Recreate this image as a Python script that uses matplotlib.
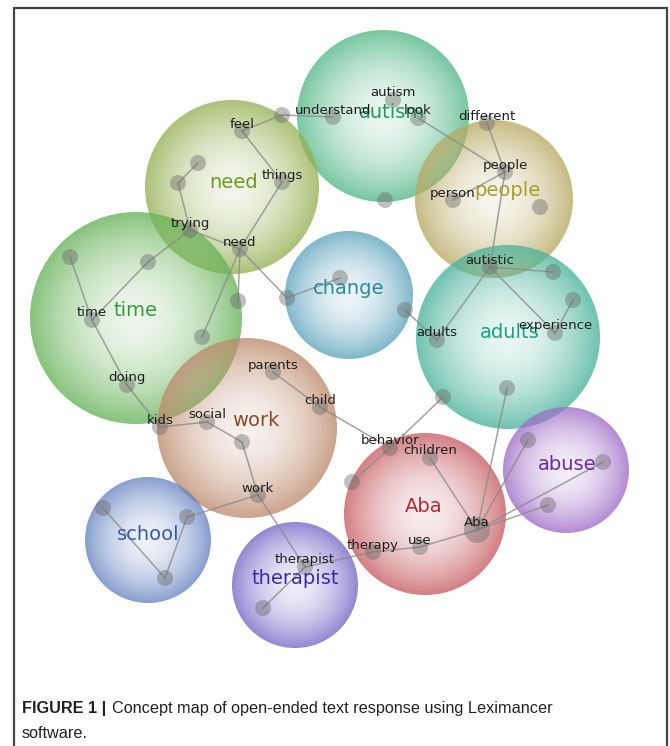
import matplotlib
matplotlib.use('Agg')
import matplotlib.pyplot as plt
from matplotlib.patches import Circle
import numpy as np

# concept circles (map coordinates = image pixels)
concepts = ['autism', 'need', 'people', 'time', 'change', 'adults',
            'work', 'school', 'therapist', 'Aba', 'abuse']
concept_x = [383, 232, 494, 136, 349, 508, 247, 148, 295, 425, 566]
concept_y = [116, 187, 199, 318, 295, 337, 428, 540, 585, 514, 470]
concept_r = [86, 87, 79, 106, 64, 92, 90, 63, 63, 81, 63]
label_x = [392, 234, 507, 136, 349, 510, 256, 148, 295, 424, 567]
label_y = [112, 182, 190, 311, 289, 332, 420, 534, 578, 506, 464]

# theme nodes
node_names = ['autism', 'understand', '', 'feel', 'look', 'different', 'people',
              'person', '', '', 'things', '', '', 'trying', 'need', '', '',
              'time', '', '', '', 'doing', 'kids', 'social', 'parents', 'child',
              'autistic', '', '', '', '', 'adults', 'experience', '', '',
              'behavior', 'children', '', 'work', '', '', '', 'therapist', '',
              '', 'Aba', 'therapy', 'use', '', '', '']
node_x = [393, 333, 282, 242, 418, 487, 505, 453, 540, 385, 282, 198, 178, 190,
          240, 70, 148, 92, 238, 287, 202, 127, 160, 207, 273, 320, 490, 553,
          573, 340, 405, 437, 555, 507, 443, 390, 430, 242, 258, 103, 187, 165,
          305, 263, 352, 477, 373, 420, 528, 603, 548]
node_y = [100, 117, 115, 131, 118, 123, 172, 200, 207, 200, 182, 163, 183, 230,
          249, 257, 262, 320, 301, 298, 337, 385, 427, 422, 372, 407, 267, 272,
          300, 278, 310, 340, 333, 388, 397, 448, 458, 442, 495, 508, 517, 578,
          567, 608, 482, 530, 552, 547, 440, 462, 505]
node_size = [8] * 45 + [13] + [8] * 5

edges = [(1, 2), (2, 3), (3, 10), (10, 14), (14, 13), (13, 12), (12, 11),
         (13, 16), (16, 17), (15, 17), (17, 21), (21, 22), (22, 23), (23, 37),
         (37, 38), (14, 18), (14, 20), (14, 19), (19, 29), (24, 25), (25, 35),
         (35, 34), (35, 44), (36, 45), (45, 47), (47, 46), (46, 42), (42, 43),
         (38, 42), (38, 40), (40, 41), (39, 41), (45, 33), (45, 48), (45, 49),
         (45, 50), (30, 31), (31, 26), (26, 32), (32, 28), (26, 27), (26, 6),
         (6, 5), (6, 4), (6, 7)]

fill_colors = [(85, 185, 135), (150, 178, 85), (185, 170, 100), (105, 180, 90),
               (95, 165, 190), (75, 180, 155), (190, 140, 110), (105, 135, 195),
               (120, 105, 200), (200, 95, 100), (160, 110, 200)]
text_colors = ['#1f9a5a', '#6f9a1f', '#a3a02a', '#3a9a3a', '#2a8aa0', '#1aa08a',
               '#8a4a2a', '#3a5aa0', '#3a2aa8', '#b02a3a', '#6a2aa8']

fig = plt.figure(figsize=(6.7, 7.46), dpi=100)
ax = fig.add_axes([0, 0, 1, 1])
ax.set_axis_off()

yy, xx = np.mgrid[-1:1:240j, -1:1:240j]
d = np.sqrt(xx ** 2 + yy ** 2)
for i in range(len(concepts)):
    cx, cy, r = concept_x[i], concept_y[i], concept_r[i]
    rgba = np.zeros((240, 240, 4))
    rgba[..., :3] = np.array(fill_colors[i]) / 255.0
    rgba[..., 3] = np.clip(0.12 + 0.68 * d ** 1.8, 0, 1)
    im = ax.imshow(rgba, extent=[cx - r, cx + r, cy + r, cy - r],
                   interpolation='bilinear', zorder=1, aspect='auto')
    clip = Circle((cx, cy), r, facecolor='none', edgecolor='none')
    ax.add_patch(clip)
    im.set_clip_path(clip)

for a, b in edges:
    ax.plot([node_x[a], node_x[b]], [node_y[a], node_y[b]],
            color='#8c8c8c', lw=1.1, alpha=0.8, zorder=2)

for i in range(len(node_x)):
    ax.add_patch(Circle((node_x[i], node_y[i]), node_size[i],
                        facecolor='#686868', edgecolor='none', alpha=0.42, zorder=3))

for i in range(len(concepts)):
    ax.text(label_x[i], label_y[i], concepts[i], color=text_colors[i],
            fontsize=14, ha='center', va='center', zorder=4,
            family='DejaVu Sans')

for i in range(len(node_x)):
    if node_names[i]:
        ax.text(node_x[i], node_y[i] - 7, node_names[i], color='#1e1e1e',
                fontsize=9.5, ha='center', va='center', zorder=5,
                family='DejaVu Sans')

# frame
ax.plot([14, 14, 667, 667], [746, 8, 8, 746], color='#444444', lw=1.6,
        zorder=6, solid_joinstyle='miter')

ax.set_xlim(0, 670)
ax.set_ylim(746, 0)

# caption
t1 = ax.text(22, 708, 'FIGURE 1 |', fontsize=11.7, fontweight='bold',
             family='Liberation Sans', color='#222222', va='center', ha='left')
fig.canvas.draw()
bb = t1.get_window_extent(renderer=fig.canvas.get_renderer())
x_end = ax.transData.inverted().transform((bb.x1, bb.y0))[0]
ax.text(x_end + 6, 708, 'Concept map of open-ended text response using Leximancer',
        fontsize=11.7, family='Liberation Sans', color='#222222', va='center', ha='left')
ax.text(22, 734, 'software.', fontsize=11.7, family='Liberation Sans',
        color='#222222', va='center', ha='left')

fig.savefig('out.png', dpi=100)
